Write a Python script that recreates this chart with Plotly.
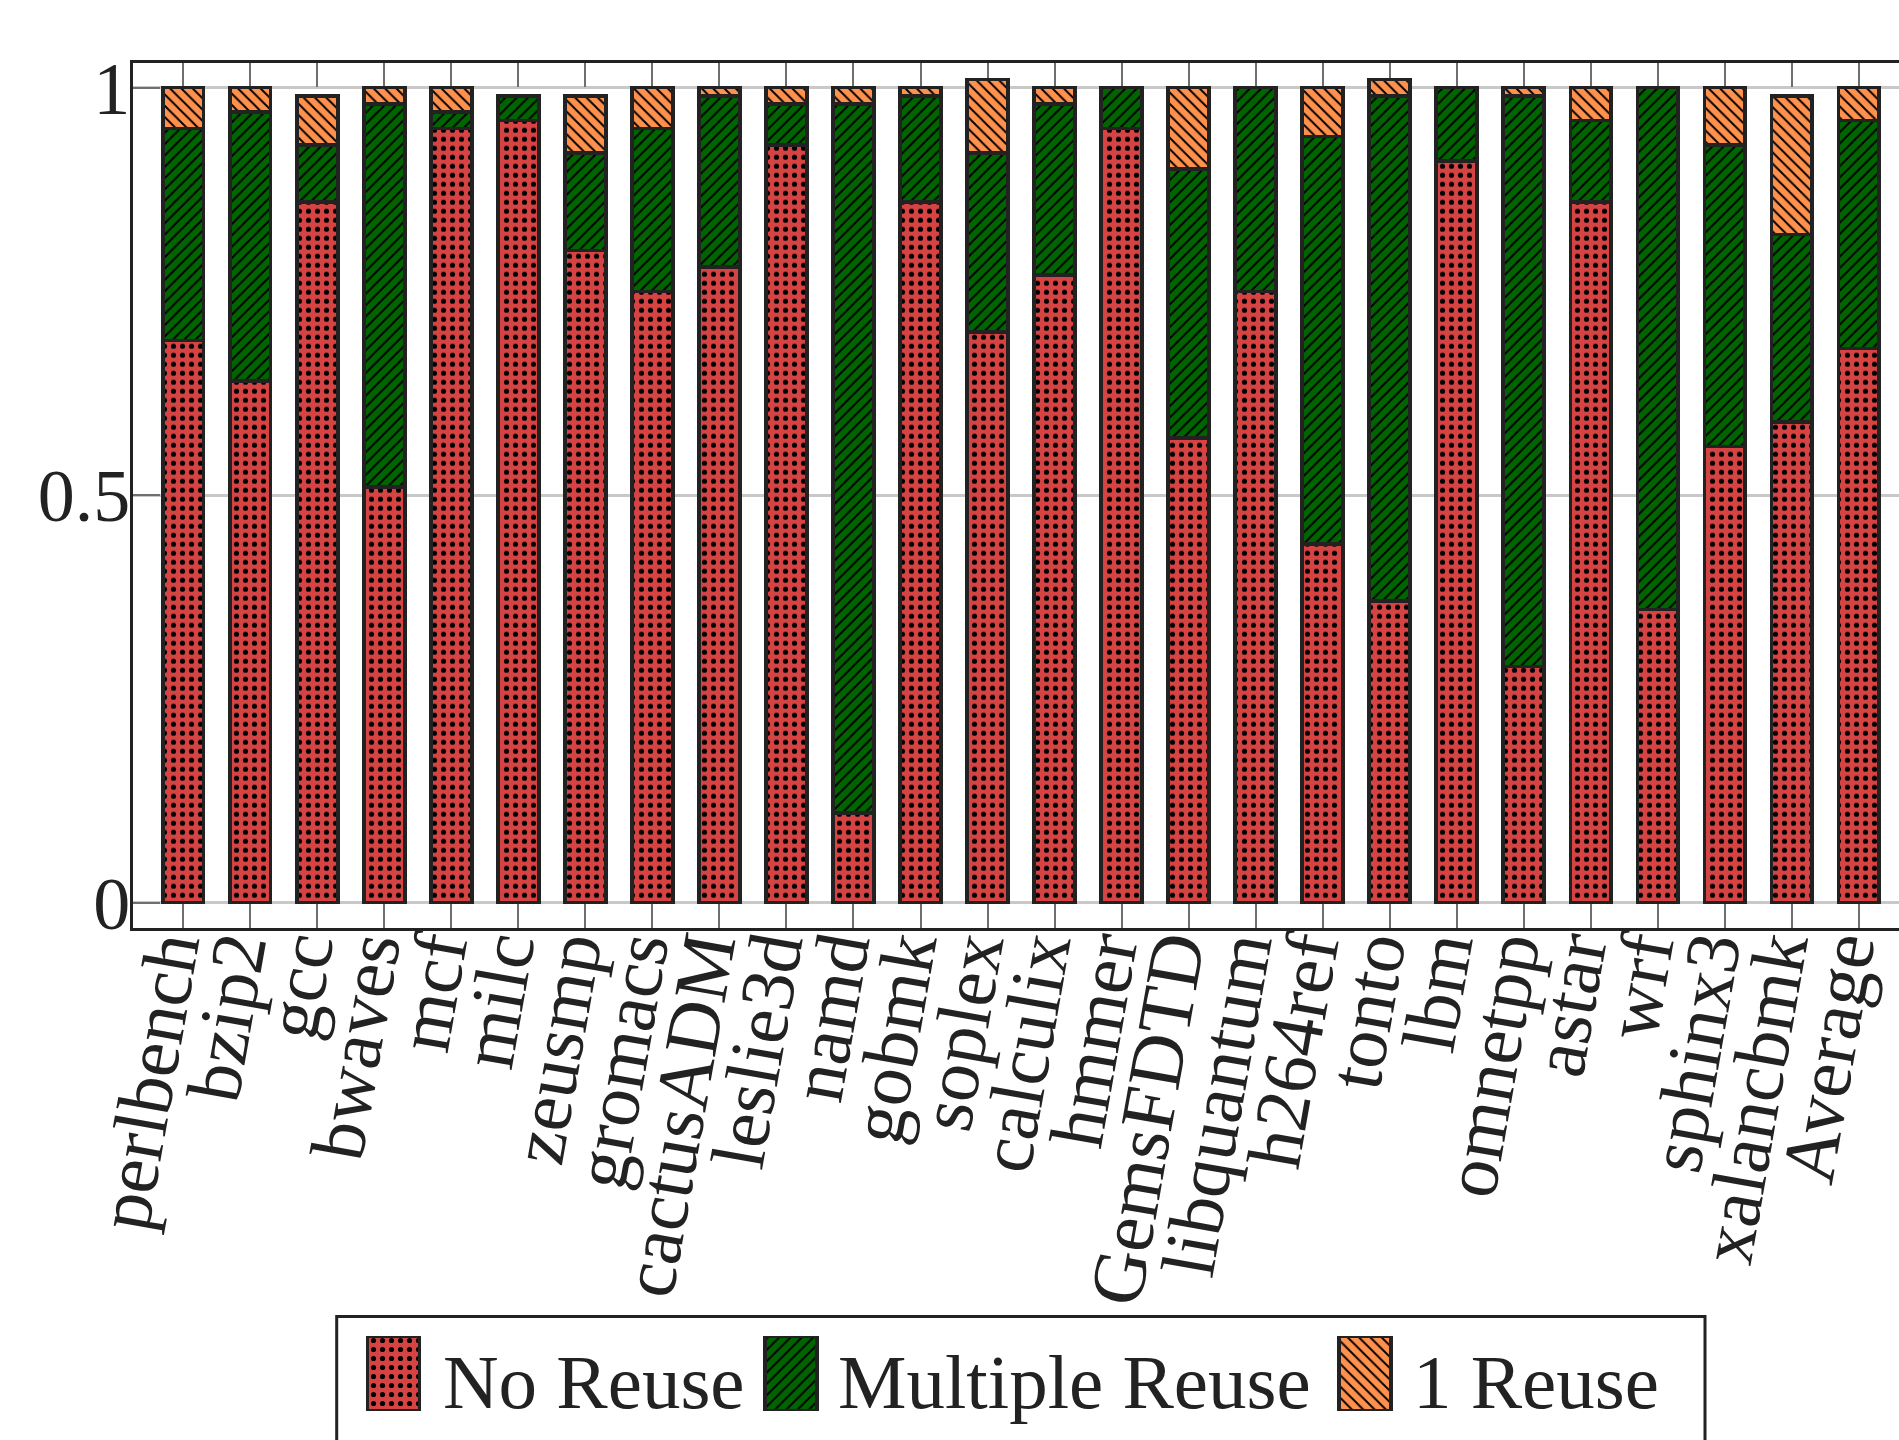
import plotly.graph_objects as go

# SPEC CPU2006 benchmarks and the share of blocks in each reuse class
benchmarks = [
    "perlbench", "bzip2", "gcc", "bwaves", "mcf", "milc", "zeusmp", "gromacs",
    "cactusADM", "leslie3d", "namd", "gobmk", "soplex", "calculix", "hmmer",
    "GemsFDTD", "libquantum", "h264ref", "tonto", "lbm", "omnetpp", "astar",
    "wrf", "sphinx3", "xalancbmk", "Average",
]
no_reuse = [0.69, 0.64, 0.86, 0.51, 0.95, 0.96, 0.80, 0.75, 0.78, 0.93, 0.11, 0.86, 0.70,
            0.77, 0.95, 0.57, 0.75, 0.44, 0.37, 0.91, 0.29, 0.86, 0.36, 0.56, 0.59, 0.68]
multiple_reuse = [0.26, 0.33, 0.07, 0.47, 0.02, 0.03, 0.12, 0.20, 0.21, 0.05, 0.87, 0.13, 0.22,
                  0.21, 0.05, 0.33, 0.25, 0.50, 0.62, 0.09, 0.70, 0.10, 0.64, 0.37, 0.23, 0.28]
one_reuse = [0.05, 0.03, 0.06, 0.02, 0.03, 0.00, 0.07, 0.05, 0.01, 0.02, 0.02, 0.01, 0.09,
             0.02, 0.00, 0.10, 0.00, 0.06, 0.02, 0.00, 0.01, 0.04, 0.00, 0.07, 0.17, 0.04]

series_names = ["No Reuse", "Multiple Reuse", "1 Reuse"]
series_values = [no_reuse, multiple_reuse, one_reuse]
y_tickvals = [0, 0.5, 1]
y_ticktext = ["0", "0.5", "1"]

# styling
W, H = 1899, 1440
FONT = "Liberation Serif"
INK = "#222222"
fills = ["#d64343", "#006400", "#ff914d"]
patterns = [
    dict(shape=".", size=9, solidity=0.26),
    dict(shape="/", size=8, solidity=0.24),
    dict(shape="\\", size=8, solidity=0.24),
]


def marker_for(i):
    return dict(
        color=fills[i],
        line=dict(color=INK, width=3.5),
        pattern=dict(fgcolor="#000000", bgcolor=fills[i], fillmode="replace", **patterns[i]),
    )


fig = go.Figure()
for i, (name, vals) in enumerate(zip(series_names, series_values)):
    fig.add_trace(go.Bar(
        name=name, x=list(range(len(benchmarks))), y=vals, width=0.61,
        marker=marker_for(i), showlegend=False,
    ))

# plot frame in pixels
plot_left, plot_top, plot_bottom = 133, 62.7, 927.7

fig.update_layout(
    width=W, height=H,
    margin=dict(l=0, r=0, t=0, b=0),
    paper_bgcolor="white", plot_bgcolor="white",
    barmode="stack",
    font=dict(family=FONT, color=INK, size=72),
    xaxis=dict(
        domain=[plot_left / W, 1],
        range=[-0.75, 25.6],
        tickmode="array",
        tickvals=list(range(len(benchmarks))),
        ticktext=benchmarks,
        tickangle=-80,
        tickfont=dict(family=FONT, size=76, color=INK),
        ticks="inside", ticklen=24, tickwidth=2, tickcolor="#6f6f6f",
        ticklabelstandoff=-52, ticklabelshift=-21, ticklabeloverflow="allow",
        showline=True, linewidth=3, linecolor=INK, mirror="ticks",
        showgrid=False, zeroline=False, automargin=False,
        layer="below traces",
    ),
    yaxis=dict(
        domain=[1 - plot_bottom / H, 1 - plot_top / H],
        range=[-0.0307, 1.0307],
        tickmode="array", tickvals=y_tickvals, ticktext=y_ticktext,
        tickfont=dict(family=FONT, size=74, color=INK),
        ticks="inside", ticklen=27, tickwidth=2, tickcolor="#6f6f6f",
        ticklabelstandoff=-15,
        showline=True, linewidth=3, linecolor=INK,
        showgrid=True, gridcolor="#c8c8c8", gridwidth=3,
        zeroline=False, automargin=False,
    ),
    # pixel-unit axes hosting the legend keys
    xaxis2=dict(domain=[0, 1], range=[0, W], visible=False, anchor="y2", fixedrange=True),
    yaxis2=dict(domain=[1 - 1411 / H, 1 - 1336 / H], range=[0, 1], visible=False,
                anchor="x2", fixedrange=True),
)

# legend: framed box with patterned keys and labels
legend_box = dict(x0=336.7, x1=1705, y0=1316.5, y1=1480)
key_centers = [393.5, 791, 1365]
label_left = [441, 836, 1411]
key_width = 52

fig.add_shape(
    type="rect", xref="paper", yref="paper",
    x0=legend_box["x0"] / W, x1=legend_box["x1"] / W,
    y0=1 - legend_box["y1"] / H, y1=1 - legend_box["y0"] / H,
    line=dict(color=INK, width=3), fillcolor="rgba(0,0,0,0)", layer="below",
)
for i, name in enumerate(series_names):
    fig.add_trace(go.Bar(
        x=[key_centers[i]], y=[1], width=key_width, xaxis="x2", yaxis="y2",
        marker=marker_for(i), showlegend=False, hoverinfo="skip",
    ))
    fig.add_annotation(
        text=name, xref="paper", yref="paper",
        x=label_left[i] / W, y=1 - 1382 / H,
        xanchor="left", yanchor="middle", showarrow=False,
        font=dict(family=FONT, size=77, color=INK),
    )

fig.write_html("out.html")
